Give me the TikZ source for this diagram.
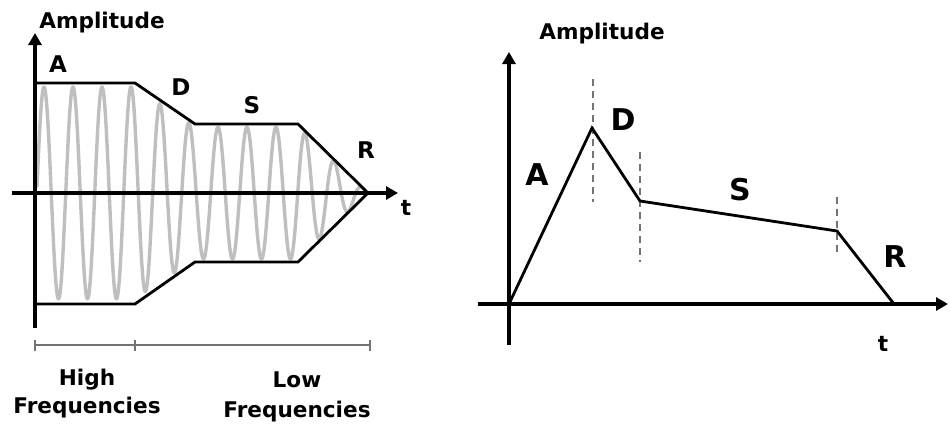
\documentclass[tikz,border=0pt]{standalone}
\usepackage{fontspec}
\setmainfont{DejaVu Sans}
\usetikzlibrary{arrows.meta}
\tikzset{
  axis/.style={line width=1.6pt,-{Triangle[length=6pt,width=6.5pt]}},
  env/.style={line width=1.4pt,line join=miter},
  wave/.style={black!25,line width=1.7pt,line join=round},
  marker/.style={black!55,line width=1pt,dash pattern=on 3.5pt off 2.5pt},
  bar/.style={black!55,line width=0.7pt},
  lbl/.style={font=\bfseries\fontsize{10.8}{12}\selectfont,anchor=base,inner sep=0pt},
  small/.style={font=\bfseries\fontsize{11.5}{12}\selectfont,anchor=base,inner sep=0pt},
  big/.style={font=\bfseries\fontsize{15}{16}\selectfont,anchor=base,inner sep=0pt}
}
\begin{document}
\begin{tikzpicture}[x=0.5pt,y=-0.5pt]
\useasboundingbox (0,0) rectangle (950,424);
% left: carrier with its envelope (period 29)
\draw[wave,variable=\t,samples=200] plot[domain=37:135] ({\t},{193-106*cos((\t-44)*12.4138)})
  -- plot[domain=135:195,samples=100] ({\t},{193-0.96*(110-(\t-135)*41/60)*cos((\t-44)*12.4138)})
  -- plot[domain=195:298] ({\t},{193-66*cos((\t-44)*12.4138)})
  -- plot[domain=298:366,samples=120] ({\t},{193-0.96*(368-\t)*69/70*cos((\t-44)*12.4138)});
\draw[env] (35,83) -- (135,83) -- (195,124) -- (298,124) -- (368,193) -- (298,262) -- (195,262) -- (135,304) -- (35,304);
\draw[axis] (35,328) -- (35,33); \draw[axis] (12,193) -- (398,193);
\node[lbl] (ampL) at (102,28) {Amplitude};
\node[small] (aL) at (58,72) {A}; \node[small] (dL) at (181,95) {D};
\node[small] (sL) at (252,113) {S}; \node[small] (rL) at (366,158) {R};
\node[lbl] (tL) at (406,215) {t};
\draw[bar] (35,345) -- (370,345);
\foreach \x in {35,135,370} \draw[bar] (\x,340) -- (\x,351);
\node[lbl] (hi1) at (87,385) {High}; \node[lbl] (hi2) at (87,413) {Frequencies};
\node[lbl] (lo1) at (297,387) {Low}; \node[lbl] (lo2) at (297,417) {Frequencies};
% right: the ADSR curve alone
\draw[axis] (509,345) -- (509,52); \draw[axis] (478,304) -- (948,304);
\draw[marker] (593,79) -- (593,202); \draw[marker] (640,152) -- (640,262); \draw[marker] (837,197) -- (837,256);
\draw[env] (509,304) -- (592,128) -- (640,201) -- (837,231) -- (894,304);
\node[lbl] (ampR) at (602,39) {Amplitude};
\node[big] (aR) at (537,185) {A}; \node[big] (dR) at (623,130) {D};
\node[big] (sR) at (740,200) {S}; \node[big] (rR) at (895,267) {R};
\node[lbl] (tR) at (883,351) {t};
\end{tikzpicture}
\end{document}
